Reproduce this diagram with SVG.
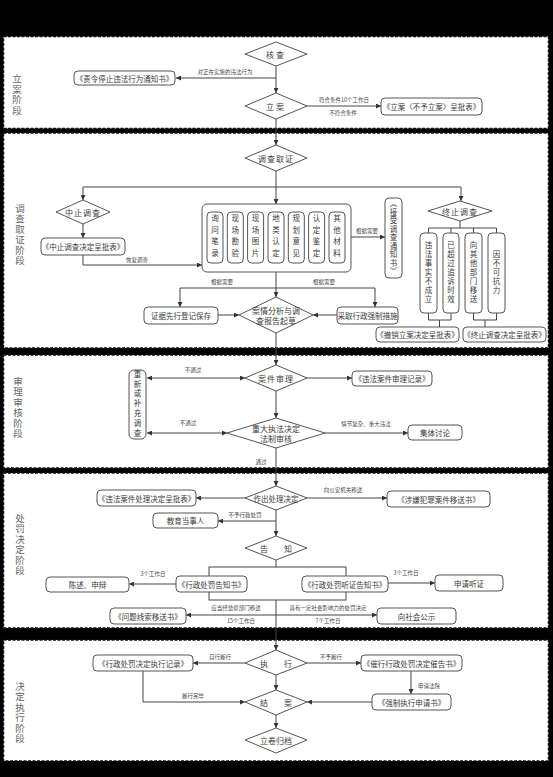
<svg xmlns="http://www.w3.org/2000/svg" width="553" height="777" viewBox="0 0 553 777">
<defs>
<style>
.sec{fill:#fff;stroke:#111;stroke-width:1.5;stroke-dasharray:3 1.5}
.box{fill:#fff;stroke:#555;stroke-width:1}
.dia{fill:#fff;stroke:#555;stroke-width:1}
.ln{fill:none;stroke:#444;stroke-width:1}
.ar{marker-end:url(#a)}
.t{font-family:"Noto Sans CJK SC","Noto Sans",sans-serif;font-size:7.5px;fill:#3a3a3a;text-anchor:middle;dominant-baseline:central}
.lb{font-size:5.5px;fill:#444}
.d{font-size:8px}
.v{writing-mode:tb}
.st{font-size:9.5px;fill:#666}
</style>
<marker id="a" viewBox="0 0 6 6" refX="6" refY="3" markerWidth="5" markerHeight="5" orient="auto-start-reverse"><path d="M0,0 L6,3 L0,6z" fill="#333"/></marker>
</defs>
<rect width="553" height="777" fill="#000"/>
<g id="sections">
<rect class="sec" x="3.5" y="36.5" width="545" height="92"/>
<rect class="sec" x="3.5" y="133" width="545" height="215"/>
<rect class="sec" x="3.5" y="355" width="545" height="113"/>
<rect class="sec" x="3.5" y="473" width="545" height="155"/>
<rect class="sec" x="3.5" y="640" width="545" height="121"/>
<text class="t st v" x="17" y="95" letter-spacing="1">立案阶段</text>
<text class="t st v" x="20" y="235" letter-spacing="1">调查取证阶段</text>
<text class="t st v" x="18" y="408" letter-spacing="1">审理审核阶段</text>
<text class="t st v" x="20" y="545" letter-spacing="1">处罚决定阶段</text>
<text class="t st v" x="20" y="713" letter-spacing="1">决定执行阶段</text>
</g>
<g id="connectors">
<path class="ln ar" d="M276,66 V93"/>
<path class="ln ar" d="M276,78 H176"/>
<text class="t lb" x="225" y="72">对正在实施的违法行为</text>
<path class="ln ar" d="M307,106 H381"/>
<text class="t lb" x="344" y="100">符合条件10个工作日</text>
<text class="t lb" x="343" y="113">不符合条件</text>
<path class="ln ar" d="M276,119 V145"/>
<path class="ln ar" d="M276,171 V204"/>
<path class="ln" d="M83,187 H461"/>
<path class="ln ar" d="M83,187 V200"/>
<path class="ln ar" d="M83,224 V238"/>
<path class="ln ar" d="M83,255 V265 H202"/>
<text class="t lb" x="137" y="260">恢复调查</text>
<path class="ln ar" d="M351,237 H385"/>
<text class="t lb" x="367" y="231">根据需要</text>
<path class="ln ar" d="M461,187 V201"/>
<path class="ln" d="M460,221 V228 M428.5,233 V228 H496.5 V233 M451,228 V233 M473.5,228 V233"/>
<path class="ln" d="M428.5,313 V320 H451 V313 M439.5,320 V327"/>
<path class="ln" d="M473.5,313 V320 H496.5 V313 M485,320 V327"/>
<path class="ln ar" d="M276,272 V297"/>
<path class="ln ar" d="M180,288 H375 V307"/>
<path class="ln ar" d="M180,288 V307"/>
<text class="t lb" x="222" y="282">根据需要</text>
<text class="t lb" x="324" y="282">根据需要</text>
<path class="ln ar" d="M218,315 H239"/>
<path class="ln ar" d="M337,315 H313"/>
<path class="ln ar" d="M276,333 V365"/>
<path class="ln ar" d="M307,378 H352"/>
<path class="ln ar" d="M245,378 H147" marker-start="url(#a)"/>
<text class="t lb" x="193" y="370">不通过</text>
<path class="ln ar" d="M276,391 V418"/>
<path class="ln ar" d="M227,433 H147" marker-start="url(#a)"/>
<text class="t lb" x="188" y="423">不通过</text>
<path class="ln ar" d="M325,433 H408"/>
<text class="t lb" x="366" y="424">情节复杂、重大违法</text>
<path class="ln ar" d="M276,448 V486"/>
<text class="t lb" x="261" y="462">通过</text>
<path class="ln ar" d="M245,498 H196"/>
<path class="ln ar" d="M307,498 H387"/>
<text class="t lb" x="343" y="490">向公安机关移送</text>
<path class="ln ar" d="M276,510 V536"/>
<path class="ln ar" d="M276,521 H218"/>
<text class="t lb" x="245" y="515">不予行政处罚</text>
<path class="ln" d="M276,560 V567"/>
<rect class="ln" x="209" y="567" width="137" height="33"/>
<path class="ln ar" d="M176,584 H129"/>
<text class="t lb" x="153" y="574">3个工作日</text>
<path class="ln ar" d="M388,583 H435"/>
<text class="t lb" x="406" y="573">3个工作日</text>
<path class="ln ar" d="M276,600 V650"/>
<path class="ln ar" d="M276,615 H186"/>
<text class="t lb" x="236" y="608">应当经监察部门移送</text>
<text class="t lb" x="241" y="621">15个工作日</text>
<path class="ln ar" d="M276,615 H377"/>
<text class="t lb" x="328" y="608">具有一定社会影响力的处罚决定</text>
<text class="t lb" x="328" y="621">7个工作日</text>
<path class="ln ar" d="M245,663 H193"/>
<text class="t lb" x="220" y="657">自行履行</text>
<path class="ln ar" d="M307,663 H361"/>
<text class="t lb" x="331" y="657">不予履行</text>
<path class="ln ar" d="M411,671 V694"/>
<text class="t lb" x="429" y="686">申请法院</text>
<path class="ln ar" d="M372,702 H307"/>
<path class="ln ar" d="M143,671 V702 H245"/>
<text class="t lb" x="193" y="696">履行完毕</text>
<path class="ln ar" d="M276,675 V690"/>
<path class="ln ar" d="M276,715 V728"/>
</g>
<g id="n-hecha"><polygon class="dia" points="245,54 276,42 307,54 276,66"/><text class="t d" x="276" y="54" letter-spacing="2">核查</text></g>
<g id="n-zeling"><rect class="box" x="74" y="71" width="101" height="14" rx="4"/><text class="t" x="124.5" y="78">《责令停止违法行为通知书》</text></g>
<g id="n-lian"><polygon class="dia" points="245,106 276,93 307,106 276,119"/><text class="t d" x="276" y="106" letter-spacing="2">立案</text></g>
<g id="n-lianbiao"><rect class="box" x="381" y="98" width="101" height="17" rx="4"/><text class="t" x="431.5" y="106.5">《立案〈不予立案〉呈批表》</text></g>
<g id="n-diaocha"><polygon class="dia" points="245,158 276,145 307,158 276,171"/><text class="t d" x="276" y="158" letter-spacing="1">调查取证</text></g>
<g id="n-zhongzhi"><polygon class="dia" points="56,212 83,200 110,212 83,224"/><text class="t d" x="83" y="212" letter-spacing="1">中止调查</text></g>
<g id="n-zhongzhibiao"><rect class="box" x="41" y="238" width="84" height="17" rx="4"/><text class="t" x="83" y="246.5">《中止调查决定呈批表》</text></g>
<g id="n-evidence"><rect class="box" x="202" y="204" width="149" height="68" rx="5"/>
<rect class="box" x="207" y="212" width="16" height="51" rx="4"/><text class="t v" x="215" y="237.5" letter-spacing="4">询问笔录</text>
<rect class="box" x="227.3" y="212" width="16" height="51" rx="4"/><text class="t v" x="235.3" y="237.5" letter-spacing="4">现场勘验</text>
<rect class="box" x="247.6" y="212" width="16" height="51" rx="4"/><text class="t v" x="255.6" y="237.5" letter-spacing="4">现场图片</text>
<rect class="box" x="268" y="212" width="16" height="51" rx="4"/><text class="t v" x="276" y="237.5" letter-spacing="4">地类认定</text>
<rect class="box" x="288.3" y="212" width="16" height="51" rx="4"/><text class="t v" x="296.3" y="237.5" letter-spacing="4">规划意见</text>
<rect class="box" x="308.6" y="212" width="16" height="51" rx="4"/><text class="t v" x="316.6" y="237.5" letter-spacing="4">认定鉴定</text>
<rect class="box" x="329" y="212" width="16" height="51" rx="4"/><text class="t v" x="337" y="237.5" letter-spacing="4">其他材料</text>
</g>
<g id="n-jieshou"><rect class="box" x="385" y="198" width="17" height="80" rx="4"/><text class="t v" x="393.5" y="238" letter-spacing="1">《接受调查通知书》</text></g>
<g id="n-zhongzhi2"><polygon class="dia" points="428,211 460,201 492,211 460,221"/><text class="t d" x="460" y="211" letter-spacing="1">终止调查</text></g>
<g id="n-r1"><rect class="box" x="420" y="233" width="17" height="80" rx="4"/><text class="t v" x="428.5" y="273" letter-spacing="1.5">违法事实不成立</text></g>
<g id="n-r2"><rect class="box" x="443" y="233" width="16" height="80" rx="4"/><text class="t v" x="451" y="273" letter-spacing="1.5">已超过追诉时效</text></g>
<g id="n-r3"><rect class="box" x="465" y="233" width="17" height="80" rx="4"/><text class="t v" x="473.5" y="273" letter-spacing="1.5">向其他部门移送</text></g>
<g id="n-r4"><rect class="box" x="488" y="233" width="17" height="80" rx="4"/><text class="t v" x="496.5" y="273" letter-spacing="1.5">因不可抗力</text></g>
<g id="n-chexiao"><rect class="box" x="376" y="327" width="83" height="15" rx="4"/><text class="t" x="417.5" y="334.5">《撤销立案决定呈批表》</text></g>
<g id="n-zhongzhibiao2"><rect class="box" x="463" y="327" width="83" height="15" rx="4"/><text class="t" x="504.5" y="334.5">《终止调查决定呈批表》</text></g>
<g id="n-baocun"><rect class="box" x="144" y="307" width="74" height="17" rx="4"/><text class="t" x="181" y="315.5">证据先行登记保存</text></g>
<g id="n-fenxi"><polygon class="dia" points="239,315 276,297 313,315 276,333"/><text class="t d" x="276" y="310">案情分析与调</text><text class="t d" x="276" y="320">查报告起草</text></g>
<g id="n-qiangzhi"><rect class="box" x="337" y="307" width="61" height="17" rx="4"/><text class="t" x="367.5" y="315.5">采取行政强制措施</text></g>
<g id="n-shenli"><polygon class="dia" points="245,378 276,365 307,378 276,391"/><text class="t d" x="276" y="378" letter-spacing="1">案件审理</text></g>
<g id="n-shenlijilu"><rect class="box" x="352" y="371" width="80" height="15" rx="4"/><text class="t" x="392" y="378.5">《违法案件审理记录》</text></g>
<g id="n-buchong"><rect class="box" x="129" y="370" width="17" height="69" rx="5"/><text class="t v" x="137.5" y="404.5" letter-spacing="2.3">重新或补充调查</text></g>
<g id="n-fazhi"><polygon class="dia" points="227,433 276,418 325,433 276,448"/><text class="t d" x="276" y="428">重大执法决定</text><text class="t d" x="276" y="438">法制审核</text></g>
<g id="n-jiti"><rect class="box" x="408" y="425" width="54" height="15" rx="4"/><text class="t" x="435" y="432.5">集体讨论</text></g>
<g id="n-chuli"><polygon class="dia" points="245,498 276,486 307,498 276,510"/><text class="t" x="276" y="498" font-size="7">作出处理决定</text></g>
<g id="n-chulibiao"><rect class="box" x="97" y="490" width="99" height="16" rx="4"/><text class="t" x="146.5" y="498">《违法案件处理决定呈批表》</text></g>
<g id="n-yisong"><rect class="box" x="387" y="491" width="103" height="16" rx="4"/><text class="t" x="438.5" y="499">《涉嫌犯罪案件移送书》</text></g>
<g id="n-jiaoyu"><rect class="box" x="153" y="513" width="65" height="15" rx="4"/><text class="t" x="185.5" y="520.5">教育当事人</text></g>
<g id="n-gaozhi"><polygon class="dia" points="245,548 276,536 307,548 276,560"/><text class="t d" x="276" y="548">告　　知</text></g>
<g id="n-gaozhishu"><rect class="box" x="176" y="576" width="71" height="16" rx="4"/><text class="t" x="211.5" y="584">《行政处罚告知书》</text></g>
<g id="n-tingzheng"><rect class="box" x="302" y="576" width="86" height="16" rx="4"/><text class="t" x="345" y="584">《行政处罚听证告知书》</text></g>
<g id="n-chenshu"><rect class="box" x="46" y="577" width="83" height="15" rx="4"/><text class="t" x="87.5" y="584.5">陈述、申辩</text></g>
<g id="n-shenqing"><rect class="box" x="435" y="575" width="68" height="16" rx="4"/><text class="t" x="469" y="583">申请听证</text></g>
<g id="n-xiansuo"><rect class="box" x="110" y="608" width="76" height="16" rx="4"/><text class="t" x="148" y="616">《问题线索移送书》</text></g>
<g id="n-gongshi"><rect class="box" x="377" y="608" width="79" height="16" rx="4"/><text class="t" x="416.5" y="616">向社会公示</text></g>
<g id="n-zhixing"><polygon class="dia" points="245,663 276,650 307,663 276,675"/><text class="t d" x="276" y="663">执　　行</text></g>
<g id="n-zhixingjilu"><rect class="box" x="93" y="655" width="100" height="16" rx="4"/><text class="t" x="143" y="663">《行政处罚决定执行记录》</text></g>
<g id="n-cuigao"><rect class="box" x="361" y="655" width="101" height="16" rx="4"/><text class="t" x="411.5" y="663">《催行行政处罚决定催告书》</text></g>
<g id="n-qiangzhishu"><rect class="box" x="372" y="694" width="79" height="16" rx="4"/><text class="t" x="411.5" y="702">《强制执行申请书》</text></g>
<g id="n-jiean"><polygon class="dia" points="245,702 276,690 307,702 276,715"/><text class="t d" x="276" y="702">结　　案</text></g>
<g id="n-guidang"><polygon class="dia" points="245,740 276,728 307,740 276,753"/><text class="t d" x="276" y="740">立卷归档</text></g>
</svg>
